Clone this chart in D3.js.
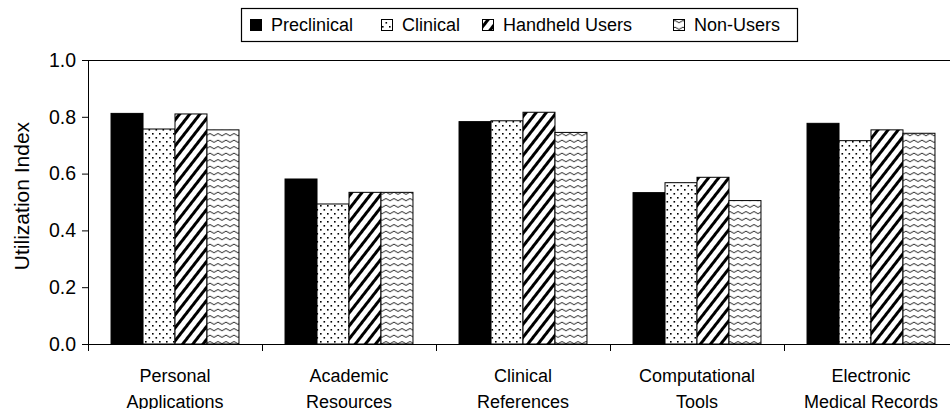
<!DOCTYPE html>
<html>
<head>
<meta charset="utf-8">
<script src="https://cdn.jsdelivr.net/npm/d3@7"></script>
<style>
  body { margin: 0; background: #fff; }
  svg { display: block; font-family: "Liberation Sans", Arial, sans-serif; }
</style>
</head>
<body>
<svg id="chart"></svg>
<script>
// Data
const categories = [
	['Personal', 'Applications'],
	['Academic', 'Resources'],
	['Clinical', 'References'],
	['Computational', 'Tools'],
	['Electronic', 'Medical Records']
];
const seriesNames = ['Preclinical', 'Clinical', 'Handheld Users', 'Non-Users'];
const preclinical = [0.812, 0.581, 0.783, 0.533, 0.777];
const clinical = [0.757, 0.493, 0.786, 0.568, 0.716];
const handheld = [0.810, 0.534, 0.816, 0.587, 0.754];
const nonUsers = [0.754, 0.534, 0.745, 0.505, 0.742];
const yTicks = [0, 0.2, 0.4, 0.6, 0.8, 1.0];

class GroupedBarChart {
	constructor(_config) {
		this.config = {
			parentElement: _config.parentElement,
			containerWidth: _config.width,
			containerHeight: _config.height,
			margin: { top: 60, right: -8, bottom: 65, left: 88 }
		};
		this.initVis();
	}

	initVis() {
		let vis = this;
		const m = vis.config.margin;
		vis.width = vis.config.containerWidth - m.left - m.right;
		vis.height = vis.config.containerHeight - m.top - m.bottom;

		vis.svg = d3.select(vis.config.parentElement)
			.attr('width', vis.config.containerWidth)
			.attr('height', vis.config.containerHeight);

		vis.defineFills();

		vis.chartArea = vis.svg.append('g')
			.attr('transform', `translate(${m.left},${m.top})`);

		vis.xScale = d3.scaleBand()
			.domain(d3.range(categories.length))
			.range([0, vis.width]);
		vis.xInner = d3.scaleBand()
			.domain(seriesNames)
			.range([0, vis.xScale.bandwidth()])
			.paddingOuter(0.72);
		vis.yScale = d3.scaleLinear()
			.domain([0, 1])
			.range([vis.height, 0]);

		vis.renderVis();
	}

	defineFills() {
		let vis = this;
		const defs = vis.svg.append('defs');

		// dotted fill
		const dots = defs.append('pattern')
			.attr('id', 'pat-dots')
			.attr('patternUnits', 'userSpaceOnUse')
			.attr('width', 7).attr('height', 8);
		dots.append('rect').attr('width', 7).attr('height', 8).attr('fill', '#fff');
		dots.append('rect').attr('x', 1).attr('y', 1).attr('width', 1.6).attr('height', 1.6).attr('fill', '#000');
		dots.append('rect').attr('x', 4.5).attr('y', 5).attr('width', 1.6).attr('height', 1.6).attr('fill', '#000');

		// wide diagonal stripes
		const stripes = defs.append('pattern')
			.attr('id', 'pat-stripes')
			.attr('patternUnits', 'userSpaceOnUse')
			.attr('width', 8).attr('height', 8)
			.attr('patternTransform', 'rotate(38)');
		stripes.append('rect').attr('width', 8).attr('height', 8).attr('fill', '#fff');
		stripes.append('rect').attr('width', 3).attr('height', 8).attr('fill', '#000');

		// wavy lines
		const waves = defs.append('pattern')
			.attr('id', 'pat-waves')
			.attr('patternUnits', 'userSpaceOnUse')
			.attr('width', 8).attr('height', 6.5);
		waves.append('rect').attr('width', 8).attr('height', 6.5).attr('fill', '#fff');
		waves.append('path')
			.attr('d', 'M0,3.2 Q2,1 4,3.2 T8,3.2')
			.attr('fill', 'none')
			.attr('stroke', '#000')
			.attr('stroke-width', 0.9);

		vis.fills = {
			'Preclinical': '#000',
			'Clinical': 'url(#pat-dots)',
			'Handheld Users': 'url(#pat-stripes)',
			'Non-Users': 'url(#pat-waves)'
		};
	}

	renderVis() {
		let vis = this;
		const values = {
			'Preclinical': preclinical,
			'Clinical': clinical,
			'Handheld Users': handheld,
			'Non-Users': nonUsers
		};
		const rows = [];
		categories.forEach((c, i) => {
			seriesNames.forEach(s => rows.push({ cat: i, series: s, value: values[s][i] }));
		});

		// bars
		vis.chartArea.selectAll('.bar')
			.data(rows)
			.join('rect')
			.attr('class', 'bar')
			.attr('x', d => vis.xScale(d.cat) + vis.xInner(d.series))
			.attr('width', vis.xInner.bandwidth())
			.attr('y', d => vis.yScale(d.value))
			.attr('height', d => vis.height - vis.yScale(d.value))
			.attr('fill', d => vis.fills[d.series])
			.attr('stroke', '#000')
			.attr('stroke-width', 1);

		// plot frame top line
		vis.chartArea.append('line')
			.attr('x1', 0).attr('x2', vis.width)
			.attr('y1', 0.5).attr('y2', 0.5)
			.attr('stroke', '#000');

		// y axis
		const yAxis = d3.axisLeft(vis.yScale)
			.tickValues(yTicks)
			.tickFormat(d3.format('.1f'))
			.tickSize(6)
			.tickPadding(6);
		const yAxisG = vis.chartArea.append('g').call(yAxis);
		yAxisG.select('.domain').attr('d', `M0.5,0V${vis.height}`);
		yAxisG.selectAll('text').attr('font-size', 19.5).attr('font-family', null).attr('fill', '#000');

		// x axis with ticks at category boundaries
		const xAxisG = vis.chartArea.append('g')
			.attr('transform', `translate(0,${vis.height})`);
		xAxisG.append('line')
			.attr('x1', 0).attr('x2', vis.width)
			.attr('y1', 0.5).attr('y2', 0.5)
			.attr('stroke', '#000');
		xAxisG.selectAll('.xtick')
			.data(d3.range(categories.length))
			.join('line')
			.attr('class', 'xtick')
			.attr('x1', d => vis.xScale(d) + 0.5)
			.attr('x2', d => vis.xScale(d) + 0.5)
			.attr('y1', 0).attr('y2', 7)
			.attr('stroke', '#000');

		const labels = xAxisG.selectAll('.xlabel')
			.data(categories)
			.join('text')
			.attr('class', 'xlabel')
			.attr('text-anchor', 'middle')
			.attr('font-size', 18);
		labels.selectAll('tspan')
			.data((d, i) => d.map(t => ({ t, i })))
			.join('tspan')
			.attr('x', d => vis.xScale(d.i) + vis.xScale.bandwidth() / 2)
			.attr('y', (d, j) => 38 + j * 26)
			.text(d => d.t);

		// y axis title
		vis.svg.append('text')
			.attr('transform', `translate(29,${vis.config.margin.top + vis.height / 2 - 6}) rotate(-90)`)
			.attr('text-anchor', 'middle')
			.attr('font-size', 21)
			.text('Utilization Index');

		vis.renderLegend();
	}

	renderLegend() {
		let vis = this;
		const legend = vis.svg.append('g');
		legend.append('rect')
			.attr('x', 241.5).attr('y', 8.5)
			.attr('width', 556).attr('height', 33)
			.attr('fill', '#fff')
			.attr('stroke', '#000')
			.attr('stroke-width', 1.2);

		const itemX = [250, 381, 482, 673];
		const items = legend.selectAll('.item')
			.data(seriesNames)
			.join('g')
			.attr('class', 'item')
			.attr('transform', (d, i) => `translate(${itemX[i]},25)`);
		items.append('rect')
			.attr('x', 0.5).attr('y', -5.5)
			.attr('width', 11).attr('height', 11)
			.attr('fill', d => vis.fills[d])
			.attr('stroke', '#000');
		items.append('text')
			.attr('x', 21)
			.attr('dy', '0.35em')
			.attr('font-size', 18)
			.text(d => d);
	}
}

new GroupedBarChart({ parentElement: '#chart', width: 950, height: 409 });
</script>
</body>
</html>
